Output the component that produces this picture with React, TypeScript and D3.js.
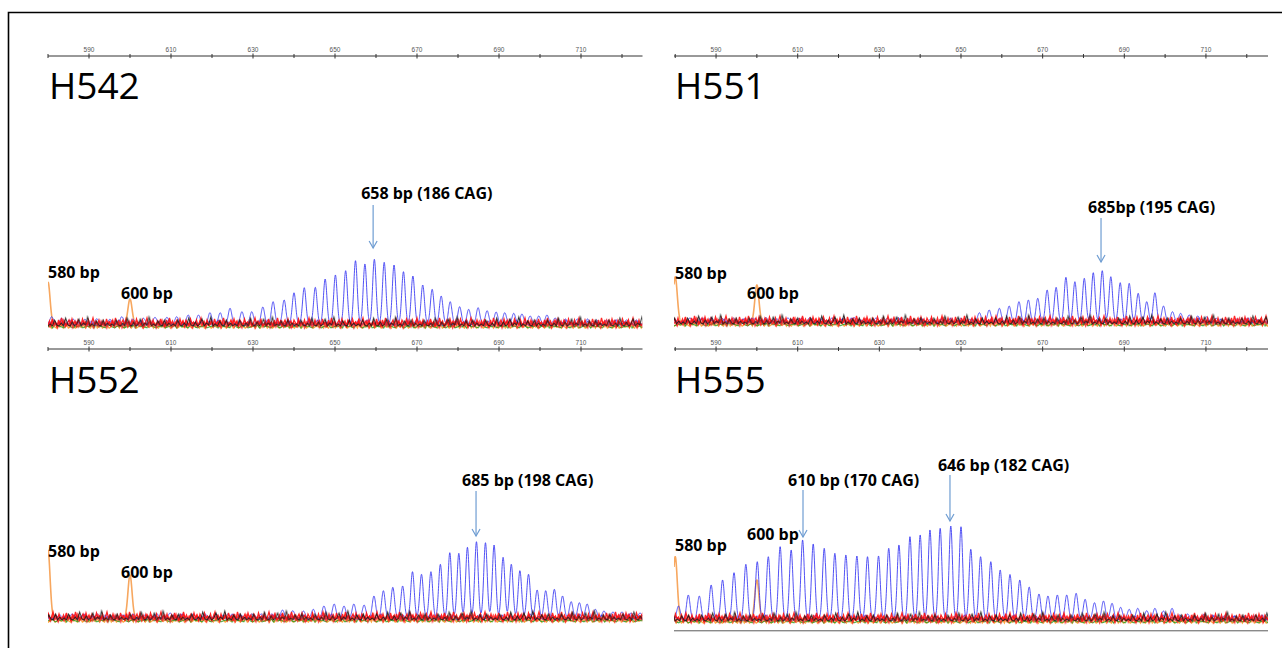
import React from "react";
import * as d3 from "d3";

// ---------------- data ----------------
const AXIS_LABEL_TICKS = [590, 610, 630, 650, 670, 690, 710];
const AXIS_MINOR_TICKS = [580, 600, 620, 640, 660, 680, 700, 720];
const SAMPLE_NAMES = ["H542", "H551", "H552", "H555"];
const SIZE_STD_BP = [580, 600];
const SIZE_STD_LABELS = ["580 bp", "600 bp"];

// blue (FAM) CAG repeat peaks: centre in bp, height in RFU
const H542_PEAK_BP = [580.9, 583.3, 586.2, 589.0, 591.9, 595.1, 598.0, 600.7, 603.3, 606.1, 609.0, 611.4, 614.2, 616.7, 619.5, 622.0, 624.4, 627.3, 629.7, 632.4, 634.9, 637.6, 640.0, 642.5, 645.2, 647.6, 650.1, 652.6, 655.0, 657.3, 659.6, 662.0, 664.4, 666.7, 669.0, 671.4, 673.7, 675.9, 678.1, 680.4, 682.6, 684.9, 687.1, 689.3, 691.4, 693.6, 695.6, 697.6, 699.7, 701.7, 703.7, 706.2, 709.1, 711.6, 713.8, 716.2, 718.6, 721.1, 723.5];
const H542_PEAK_RFU = [73, 57, 47, 47, 53, 47, 73, 50, 57, 67, 67, 73, 90, 90, 113, 113, 157, 123, 123, 170, 223, 240, 313, 363, 367, 450, 490, 533, 633, 600, 647, 617, 590, 523, 480, 390, 347, 280, 223, 173, 147, 163, 133, 120, 113, 107, 100, 80, 80, 90, 60, 50, 50, 50, 40, 40, 40, 40, 40];

const H551_PEAK_BP = [583.6, 586.1, 588.8, 591.5, 594.2, 596.9, 599.6, 602.2, 604.9, 607.6, 610.3, 613.0, 615.7, 618.4, 621.1, 623.8, 626.5, 629.2, 631.9, 634.6, 637.3, 640.0, 642.7, 645.3, 647.3, 649.9, 652.2, 654.5, 656.9, 659.4, 661.8, 664.2, 666.5, 668.8, 671.1, 673.3, 675.7, 677.9, 680.2, 682.4, 684.6, 686.7, 689.0, 691.2, 693.4, 695.5, 697.5, 699.6, 701.8, 703.8, 705.9, 708.0, 710.2, 712.5, 714.9, 717.4, 719.8, 722.3];
const H551_PEAK_RFU = [40, 30, 45, 35, 40, 30, 35, 45, 30, 40, 35, 45, 30, 40, 35, 45, 30, 40, 35, 45, 30, 40, 35, 37, 27, 37, 27, 93, 120, 137, 160, 203, 220, 237, 320, 347, 447, 403, 437, 493, 513, 453, 393, 387, 287, 203, 293, 160, 103, 87, 70, 60, 53, 37, 30, 30, 30, 30];

const H552_PEAK_BP = [582.9, 585.9, 589.0, 592.0, 595.1, 598.0, 603.7, 606.6, 609.8, 612.4, 615.4, 618.3, 621.0, 623.9, 626.8, 629.7, 632.0, 634.6, 637.2, 639.7, 642.3, 644.7, 647.3, 649.8, 652.2, 654.6, 657.1, 659.5, 661.8, 664.1, 666.5, 668.9, 671.1, 673.4, 675.7, 678.0, 680.2, 682.3, 684.5, 686.7, 688.8, 691.0, 693.0, 695.1, 697.2, 699.3, 701.4, 703.5, 705.5, 707.6, 709.6, 711.5, 713.5, 715.6, 717.8, 720.0, 722.2, 724.4];
const H552_PEAK_RFU = [30, 40, 30, 40, 30, 30, 30, 40, 50, 40, 40, 40, 40, 40, 40, 40, 40, 40, 80, 73, 70, 87, 120, 140, 120, 140, 130, 220, 273, 307, 320, 463, 437, 463, 537, 653, 647, 707, 763, 753, 730, 607, 537, 473, 437, 280, 273, 287, 220, 163, 153, 140, 87, 70, 60, 60, 50, 50];

const H555_PEAK_BP = [580.8, 583.2, 585.9, 588.8, 591.6, 594.4, 597.3, 600.1, 602.8, 605.7, 608.4, 611.2, 613.8, 616.5, 619.1, 621.8, 624.5, 627.1, 629.8, 632.3, 634.8, 637.5, 640.0, 642.4, 644.9, 647.5, 650.0, 652.4, 654.8, 657.3, 659.6, 662.0, 664.4, 666.7, 669.1, 671.3, 673.6, 675.9, 678.2, 680.4, 682.7, 684.9, 687.0, 689.1, 691.2, 693.3, 695.5, 697.5, 699.6, 701.7, 703.6, 705.5, 707.7, 709.5, 712.0, 714.5, 717.0, 719.5, 722.0];
const H555_PEAK_RFU = [130, 240, 230, 340, 390, 463, 547, 573, 623, 723, 690, 790, 750, 707, 657, 640, 630, 623, 630, 707, 740, 823, 840, 890, 907, 930, 923, 697, 623, 573, 490, 445, 390, 320, 250, 230, 240, 240, 257, 197, 163, 180, 157, 117, 97, 107, 83, 107, 80, 107, 40, 50, 20, 47, 30, 30, 30, 30, 30];

// orange size-standard peaks (580 bp, 600 bp), RFU
const H542_STD_RFU = [420, 250];
const H551_STD_RFU = [450, 370];
const H552_STD_RFU = [680, 430];
const H555_STD_RFU = [623, 390];

// allele calls
const H542_CALLS = ["658 bp (186 CAG)"];
const H542_CALL_BP = [659.3];
const H551_CALLS = ["685bp (195 CAG)"];
const H551_CALL_BP = [684.3];
const H552_CALLS = ["685 bp (198 CAG)"];
const H552_CALL_BP = [684.4];
const H555_CALLS = ["610 bp (170 CAG)", "646 bp (182 CAG)"];
const H555_CALL_BP = [611.3, 647.3];

// background noise texture of the other dye channels (RFU)
const NOISE_RED = [20, 60, 10, 80, 30, 50, 0, 70, 20, 90, 30, 60, 10, 40, 70, 20, 80, 30, 60, 10, 70, 40, 20, 80, 30, 50, 20, 70, 10, 40, 90, 30, 60, 20, 70, 20];
const NOISE_RED2 = [40, 10, 70, 20, 50, 0, 60, 30, 80, 10, 50, 20, 70, 0, 40, 60, 10, 50, 30, 70, 10, 60, 20, 40, 0, 50];
const NOISE_BLACK = [0, 20, 0, 60, 10, 0, 30, 0, 80, 10, 0, 40, 0, 20, 70, 0, 30, 10, 90, 0, 20, 0, 50, 10, 0, 60, 0, 30];
const NOISE_GREEN = [10, 30, 0, 40, 10, 20, 10, 0, 30, 40, 10, 0, 20, 10, 30, 0, 10, 20];
const NOISE_ORANGE = [20, 40, 10, 50, 20, 10, 40, 20, 50, 10, 30, 40, 10, 20, 50, 30, 10, 20, 40, 20];
const NOISE_BLUE = [0, 30, 10, 0, 40, 0, 20, 50, 0, 10, 30, 0, 20, 0, 40, 0];

// ---------------- layout ----------------
type PanelCfg = {
  name: string;
  bp: number[];
  rfu: number[];
  std: number[];
  calls: string[];
  callBp: number[];
  domain: [number, number];
  x0: number;
  x1: number;
  axisY: number;
  base: number;
  titleY: number;
  stdLabelPos: [number, number][];
  callLabelY: number[];
  callLabelDx: number[];
  arrowTop: number[];
  arrowBottom: number[];
  bottomRule?: number;
};

const PANELS: PanelCfg[] = [
  {
    name: SAMPLE_NAMES[0], bp: H542_PEAK_BP, rfu: H542_PEAK_RFU, std: H542_STD_RFU,
    calls: H542_CALLS, callBp: H542_CALL_BP,
    domain: [580, 725], x0: 48, x1: 642.5, axisY: 56, base: 324, titleY: 99,
    stdLabelPos: [[48, 278], [121, 298.5]],
    callLabelY: [198.5], callLabelDx: [-12], arrowTop: [205], arrowBottom: [248],
  },
  {
    name: SAMPLE_NAMES[1], bp: H551_PEAK_BP, rfu: H551_PEAK_RFU, std: H551_STD_RFU,
    calls: H551_CALLS, callBp: H551_CALL_BP,
    domain: [579.7, 725.2], x0: 674, x1: 1268, axisY: 56, base: 322, titleY: 99,
    stdLabelPos: [[675, 278.5], [747, 298.5]],
    callLabelY: [212.5], callLabelDx: [-13], arrowTop: [218], arrowBottom: [262],
  },
  {
    name: SAMPLE_NAMES[2], bp: H552_PEAK_BP, rfu: H552_PEAK_RFU, std: H552_STD_RFU,
    calls: H552_CALLS, callBp: H552_CALL_BP,
    domain: [580, 725], x0: 48, x1: 642.5, axisY: 349, base: 618, titleY: 393,
    stdLabelPos: [[48, 557], [121, 577.5]],
    callLabelY: [485.5], callLabelDx: [-14], arrowTop: [491], arrowBottom: [536],
  },
  {
    name: SAMPLE_NAMES[3], bp: H555_PEAK_BP, rfu: H555_PEAK_RFU, std: H555_STD_RFU,
    calls: H555_CALLS, callBp: H555_CALL_BP,
    domain: [579.7, 725.2], x0: 674, x1: 1268, axisY: 349, base: 619, titleY: 393,
    stdLabelPos: [[675, 550.5], [747, 539.5]],
    callLabelY: [485.5, 470.5], callLabelDx: [-15, -12], arrowTop: [490, 475], arrowBottom: [537, 521],
    bottomRule: 630.5,
  },
];

const LABEL_FONT = "'Open Sans', 'Noto Sans', sans-serif";
const BLUE = "#3434f2";
const ORANGE = "#f7a75f";
const ARROW = "#6f9dd2";

// y scale: RFU -> pixel height above baseline
const yScale = d3.scaleLinear().domain([0, 1000]).range([0, 100]);

function traceLine(
  x: d3.ScaleLinear<number, number>,
  base: number,
  centres: number[],
  heights: number[],
  sigma: number,
  from: number,
  to: number
): string {
  const samples = d3.range(from, to, 0.04);
  const pts: [number, number][] = samples.map((b) => {
    let v = 0;
    for (let i = 0; i < centres.length; i++) {
      const d = b - centres[i];
      if (Math.abs(d) < 5 * sigma) v += heights[i] * Math.exp(-(d * d) / (2 * sigma * sigma));
    }
    return [x(b), base - yScale(v)];
  });
  return d3.line()(pts) || "";
}

function noisePath(values: number[], step: number, zero: number): string {
  const pts: [number, number][] = values.map((v, i) => [i * step, zero - yScale(v)]);
  pts.push([values.length * step, zero - yScale(values[0])]);
  return d3.line()(pts) || "";
}

const NOISE_LAYERS = [
  { key: "orange", values: NOISE_ORANGE, step: 1.7, offset: 5, color: "#ffa030", w: 1.4 },
  { key: "green", values: NOISE_GREEN, step: 2.3, offset: 4, color: "#23a023", w: 1 },
  { key: "blue", values: NOISE_BLUE, step: 3.1, offset: 1, color: BLUE, w: 1 },
  { key: "red2", values: NOISE_RED2, step: 1.9, offset: 4, color: "#ff2a2a", w: 1.3 },
  { key: "red", values: NOISE_RED, step: 1.5, offset: 3, color: "#ff1010", w: 1.3 },
  { key: "black", values: NOISE_BLACK, step: 2.2, offset: 2, color: "#1a1a1a", w: 1 },
];

function Panel({ p, idx }: { p: PanelCfg; idx: number }) {
  const x = d3.scaleLinear().domain(p.domain).range([p.x0, p.x1]);
  const clipId = `clip-${idx}`;
  const bandTop = p.base - 14;
  const bandH = 24;
  const blue = traceLine(x, p.base, p.bp, p.rfu, 0.42, p.domain[0], p.domain[1]);
  const orange = traceLine(x, p.base, SIZE_STD_BP, p.std, 0.5, p.domain[0], p.domain[1]);
  return (
    <g>
      <defs>
        <clipPath id={clipId}>
          <rect x={p.x0} y={0} width={p.x1 - p.x0} height={648} />
        </clipPath>
        {NOISE_LAYERS.map((n) => (
          <pattern
            key={n.key}
            id={`noise-${n.key}-${idx}`}
            patternUnits="userSpaceOnUse"
            x={p.x0 + idx * 7}
            y={bandTop}
            width={n.values.length * n.step}
            height={bandH}
          >
            <path d={noisePath(n.values, n.step, 14 + n.offset)} fill="none" stroke={n.color} strokeWidth={n.w} strokeOpacity={0.9} />
          </pattern>
        ))}
      </defs>

      {/* size axis */}
      <line x1={p.x0} x2={p.x1} y1={p.axisY} y2={p.axisY} stroke="#333" strokeWidth={1} />
      {AXIS_MINOR_TICKS.map((t) => (
        <line key={`m${t}`} x1={x(t)} x2={x(t)} y1={p.axisY - 2} y2={p.axisY + 2} stroke="#333" strokeWidth={1} />
      ))}
      {AXIS_LABEL_TICKS.map((t) => (
        <g key={`t${t}`}>
          <line x1={x(t)} x2={x(t)} y1={p.axisY - 2.5} y2={p.axisY + 2.5} stroke="#333" strokeWidth={1} />
          <text x={x(t)} y={p.axisY - 4.5} textAnchor="middle" fontSize={6.5} fill="#555" fontFamily="'Liberation Sans', Arial, sans-serif">
            {t}
          </text>
        </g>
      ))}

      {/* sample name */}
      <text x={p.x0 + 1} y={p.titleY} fontSize={37} fontFamily={LABEL_FONT} fill="#000">
        {p.name}
      </text>

      {/* electropherogram */}
      <g clipPath={`url(#${clipId})`}>
        {NOISE_LAYERS.slice(0, 2).map((n) => (
          <rect key={n.key} x={p.x0} y={bandTop} width={p.x1 - p.x0} height={bandH} fill={`url(#noise-${n.key}-${idx})`} />
        ))}
        <path d={orange} fill="none" stroke={ORANGE} strokeWidth={1.6} />
        <path d={blue} fill="none" stroke={BLUE} strokeWidth={1} strokeOpacity={0.85} />
        {NOISE_LAYERS.slice(2).map((n) => (
          <rect key={n.key} x={p.x0} y={bandTop} width={p.x1 - p.x0} height={bandH} fill={`url(#noise-${n.key}-${idx})`} />
        ))}
      </g>

      {p.bottomRule !== undefined && (
        <g>
          <line x1={p.x0} x2={p.x1} y1={p.bottomRule} y2={p.bottomRule} stroke="#8a8a8a" strokeWidth={1} />
          <line x1={p.x0} x2={p.x1} y1={p.bottomRule + 1} y2={p.bottomRule + 1} stroke="#cfcfcf" strokeWidth={1} />
        </g>
      )}

      {/* size standard labels */}
      {SIZE_STD_LABELS.map((s, i) => (
        <text key={s} x={p.stdLabelPos[i][0]} y={p.stdLabelPos[i][1]} fontSize={16} fontWeight={700} fontFamily={LABEL_FONT} fill="#000">
          {s}
        </text>
      ))}

      {/* allele calls */}
      {p.calls.map((c, i) => {
        const ax = x(p.callBp[i]);
        const yb = p.arrowBottom[i];
        return (
          <g key={c}>
            <text x={ax + p.callLabelDx[i]} y={p.callLabelY[i]} fontSize={16} fontWeight={700} fontFamily={LABEL_FONT} fill="#000">
              {c}
            </text>
            <line x1={ax} x2={ax} y1={p.arrowTop[i]} y2={yb} stroke={ARROW} strokeWidth={1.2} />
            <path d={`M${ax - 4},${yb - 7} L${ax},${yb} L${ax + 4},${yb - 7}`} fill="none" stroke={ARROW} strokeWidth={1.2} />
          </g>
        );
      })}
    </g>
  );
}

export default function App() {
  return (
    <svg width={1282} height={648} style={{ position: "absolute", left: 0, top: 0, background: "#fff" }}>
      <rect x={0} y={0} width={1282} height={648} fill="#fff" />
      <path d="M8.5,648 L8.5,12.5 L1282,12.5" fill="none" stroke="#000" strokeWidth={1.6} />
      {PANELS.map((p, i) => (
        <Panel key={p.name} p={p} idx={i} />
      ))}
    </svg>
  );
}
